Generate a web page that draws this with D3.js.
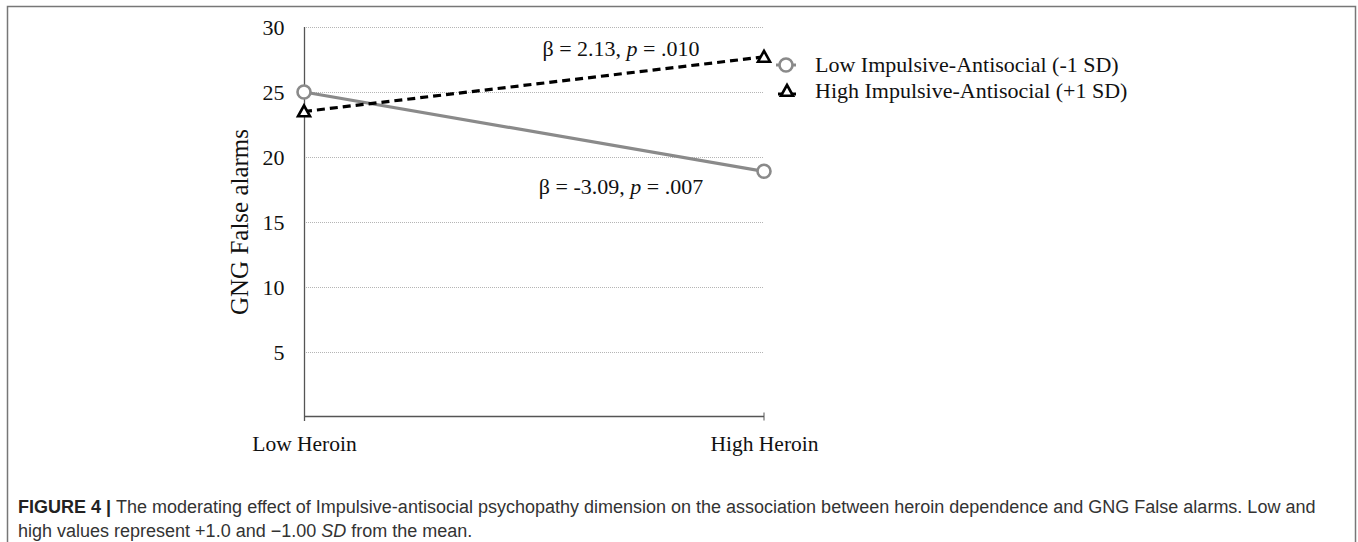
<!DOCTYPE html>
<html>
<head>
<meta charset="utf-8">
<script src="https://cdn.jsdelivr.net/npm/d3@7"></script>
<style>
  body { margin: 0; background: #fff; }
  .serif { font-family: "Liberation Serif", "DejaVu Serif", serif; fill: #111; }
  .cap { font-family: "Liberation Sans", Arial, sans-serif; fill: #333; font-size: 18px; }
</style>
</head>
<body>
<div id="chart"></div>
<script>
// Data
var categories = ['Low Heroin', 'High Heroin'];
var lowIA = [25.0, 18.9];   // Low Impulsive-Antisocial (-1 SD)
var highIA = [23.5, 27.7];  // High Impulsive-Antisocial (+1 SD)
var yTicks = [5, 10, 15, 20, 25, 30];
var seriesNames = ['Low Impulsive-Antisocial (-1 SD)', 'High Impulsive-Antisocial (+1 SD)'];

var W = 1358, H = 542;
var svg = d3.select('#chart').append('svg')
    .attr('width', W)
    .attr('height', H);

// figure frame
svg.append('path')
    .attr('d', 'M7.5,' + (H + 5) + 'V6.5H1355.5V' + (H + 5))
    .attr('fill', 'none')
    .attr('stroke', '#777')
    .attr('stroke-width', 1.5);

// Scales
var x = d3.scalePoint().domain(categories).range([304, 764]);
var y = d3.scaleLinear().domain([0, 30]).range([417, 27]);

// grid lines
svg.append('g').selectAll('line')
    .data(yTicks)
    .enter().append('line')
    .attr('x1', 304).attr('x2', 764)
    .attr('y1', function (d) { return Math.round(y(d)) + 0.5; })
    .attr('y2', function (d) { return Math.round(y(d)) + 0.5; })
    .attr('stroke', '#b5b5b5')
    .attr('stroke-width', 1)
    .attr('stroke-dasharray', '1,1');

// y axis
var yAxis = svg.append('g')
    .attr('transform', 'translate(304.5,0)')
    .call(d3.axisLeft(y).tickValues(yTicks).tickSize(0).tickPadding(20));
yAxis.select('.domain').attr('stroke', '#555').attr('stroke-width', 1.3)
    .attr('d', 'M0,' + y(30) + 'V' + (y(0) + 4));
yAxis.selectAll('.tick text')
    .attr('class', 'serif')
    .attr('font-size', 22)
    .style('font-size', '22px')
    .attr('fill', '#333');

// x axis
var xAxis = svg.append('g')
    .attr('transform', 'translate(0,' + (y(0) - 0.5) + ')')
    .call(d3.axisBottom(x).tickSize(0).tickPadding(19));
xAxis.select('.domain').attr('stroke', '#555').attr('stroke-width', 1.3)
    .attr('d', 'M304,0H764');
xAxis.append('line')
    .attr('x1', x(categories[1])).attr('x2', x(categories[1]))
    .attr('y1', -4).attr('y2', 4)
    .attr('stroke', '#555');
xAxis.selectAll('.tick text')
    .attr('class', 'serif')
    .style('font-size', '21.5px')
    .attr('fill', '#111');

// y axis title
svg.append('text')
    .attr('class', 'serif')
    .attr('transform', 'translate(248,' + y(15) + ') rotate(-90)')
    .attr('text-anchor', 'middle')
    .style('font-size', '25px')
    .text('GNG False alarms');

// lines
var line = d3.line()
    .x(function (d, i) { return x(categories[i]); })
    .y(function (d) { return y(d); });

svg.append('path')
    .datum(lowIA)
    .attr('d', line)
    .attr('fill', 'none')
    .attr('stroke', '#8a8a8a')
    .attr('stroke-width', 3.2);

svg.append('path')
    .datum(highIA)
    .attr('d', line)
    .attr('fill', 'none')
    .attr('stroke', '#000')
    .attr('stroke-width', 3.2)
    .attr('stroke-dasharray', '8,5');

// markers
function circleMark(g, cx, cy) {
    g.append('circle')
        .attr('cx', cx).attr('cy', cy).attr('r', 6.5)
        .attr('fill', '#fff')
        .attr('stroke', '#8a8a8a')
        .attr('stroke-width', 2.6);
}
function triMark(g, cx, cy) {
    var s = 6;
    g.append('path')
        .attr('d', 'M' + cx + ',' + (cy - s) + 'L' + (cx + s) + ',' + (cy + s * 0.8) + 'L' + (cx - s) + ',' + (cy + s * 0.8) + 'Z')
        .attr('fill', '#fff')
        .attr('stroke', '#000')
        .attr('stroke-width', 2.6)
        .attr('stroke-linejoin', 'miter');
}

var marks = svg.append('g');
lowIA.forEach(function (v, i) { circleMark(marks, x(categories[i]), y(v)); });
highIA.forEach(function (v, i) { triMark(marks, x(categories[i]), y(v)); });

// annotations
var ann = [
    { b: '2.13', p: '.010', yy: 56 },
    { b: '-3.09', p: '.007', yy: 194 }
];
ann.forEach(function (a) {
    var t = svg.append('text')
        .attr('class', 'serif')
        .attr('x', 621).attr('y', a.yy)
        .attr('text-anchor', 'middle')
        .style('font-size', '22px');
    t.append('tspan').text('\u03b2 = ' + a.b + ', ');
    t.append('tspan').style('font-style', 'italic').text('p');
    t.append('tspan').text(' = ' + a.p);
});

// legend
var leg = svg.append('g');
var legY = [65, 91];
leg.append('line')
    .attr('x1', 776).attr('x2', 796).attr('y1', legY[0]).attr('y2', legY[0])
    .attr('stroke', '#8a8a8a').attr('stroke-width', 3);
circleMark(leg, 786, legY[0]);
leg.append('line')
    .attr('x1', 778).attr('x2', 796).attr('y1', legY[1] + 3).attr('y2', legY[1] + 3)
    .attr('stroke', '#000').attr('stroke-width', 3);
triMark(leg, 787, legY[1]);
seriesNames.forEach(function (n, i) {
    leg.append('text')
        .attr('class', 'serif')
        .attr('x', 815).attr('y', legY[i] + 7)
        .style('font-size', '22px')
        .text(n);
});

// caption
var c1 = svg.append('text').attr('class', 'cap').attr('x', 18).attr('y', 513);
c1.append('tspan').style('font-weight', 'bold').attr('fill', '#222').text('FIGURE 4 | ');
c1.append('tspan').text('The moderating effect of Impulsive-antisocial psychopathy dimension on the association between heroin dependence and GNG False alarms. Low and');
var c2 = svg.append('text').attr('class', 'cap').attr('x', 18).attr('y', 537);
c2.append('tspan').text('high values represent +1.0 and \u22121.00 ');
c2.append('tspan').style('font-style', 'italic').text('SD');
c2.append('tspan').text(' from the mean.');
</script>
</body>
</html>
